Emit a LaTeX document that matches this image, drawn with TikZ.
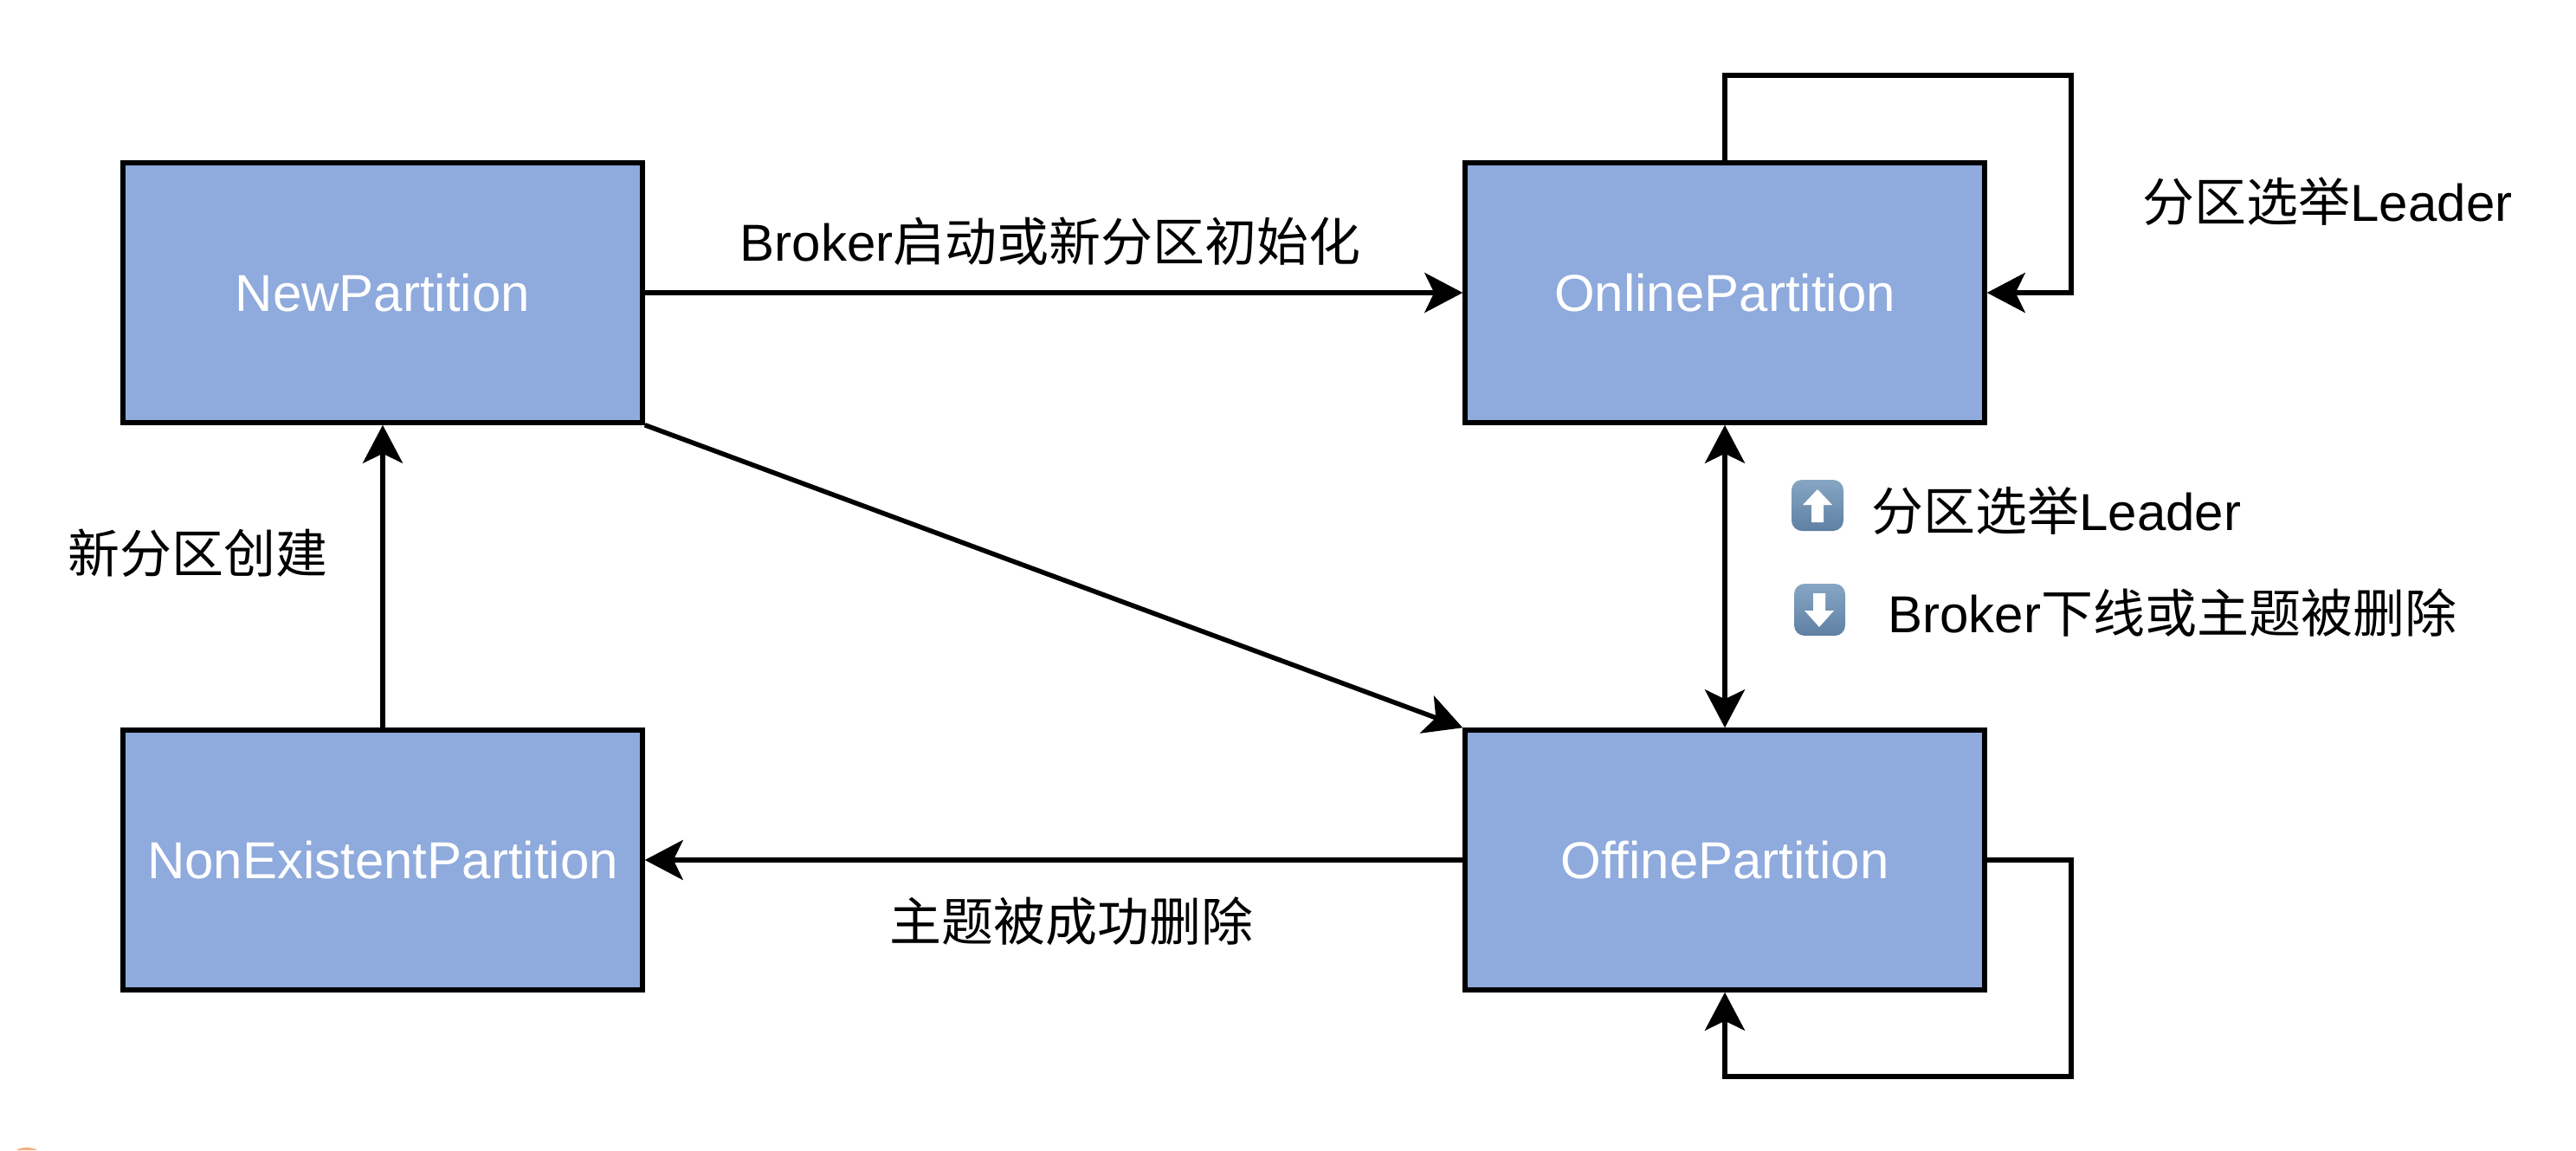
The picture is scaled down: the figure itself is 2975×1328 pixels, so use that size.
\documentclass[tikz,border=0pt]{standalone}
\usepackage{fontspec}
\setmainfont{Liberation Sans}
\newfontfamily\cjk{Noto Sans CJK SC}
\usetikzlibrary{arrows.meta}
\definecolor{boxblue}{HTML}{8FAADC}
\definecolor{icontop}{HTML}{86A6C4}
\definecolor{iconbot}{HTML}{5E80A2}
\definecolor{specorange}{HTML}{F0B080}
\tikzset{
  statebox/.style={draw=black,fill=boxblue,line width=2.75pt,minimum width=300pt,minimum height=150pt,text=white,font=\fontsize{30}{36}\selectfont,inner sep=0pt},
  conn/.style={draw=black,line width=2.75pt,-{Stealth[length=22pt,width=23pt,inset=5.5pt]}},
  connboth/.style={draw=black,line width=2.75pt,{Stealth[length=22pt,width=23pt,inset=5.5pt]}-{Stealth[length=22pt,width=23pt,inset=5.5pt]}},
  lab/.style={font=\fontsize{30}{36}\selectfont,text=black,inner sep=0pt},
  iconbox/.style={rounded corners=6pt,top color=icontop,bottom color=iconbot,draw=none},
}
\begin{document}
\begin{tikzpicture}[x=0.5pt,y=-0.5pt]
\useasboundingbox (0,0) rectangle (2975,1328);
\node[statebox] (new) at (442,338) {NewPartition};
\node[statebox] (online) at (1992,338) {OnlinePartition};
\node[statebox] (none) at (442,993) {NonExistentPartition};
\node[statebox] (offline) at (1992,993) {OffinePartition};
\coordinate (t1) at (2392,87);
\coordinate (t2) at (2392,1243);
\draw[conn] (new.east) -- (online.west);
\draw[conn] (new.south east) -- (offline.north west);
\draw[connboth] (online.south) -- (offline.north);
\draw[conn] (offline.west) -- (none.east);
\draw[conn] (none.north) -- (new.south);
\draw[conn] (online.north) |- (t1) |- (online.east);
\draw[conn] (offline.east) -| (t2) -| (offline.south);
\node[lab] (l1) at (1213,279) {Broker{\cjk 启动或新分区初始化}};
\node[lab] (l2) at (2688,233) {{\cjk 分区选举}Leader};
\node[lab,anchor=west] (l3) at (2161,590) {{\cjk 分区选举}Leader};
\node[lab,anchor=west] (l4) at (2180,708) {Broker{\cjk 下线或主题被删除}};
\node[lab] (l5) at (228,639) {\cjk 新分区创建};
\node[lab] (l6) at (1237,1064) {\cjk 主题被成功删除};
\path[iconbox] (2069,554) rectangle (2129,613);
\fill[white] (2099,565) -- (2116,583) -- (2106,583) -- (2106,603) -- (2092,603) -- (2092,583) -- (2082,583) -- cycle;
\path[iconbox] (2072,674) rectangle (2131,734);
\fill[white] (2101,724) -- (2118,705) -- (2108,705) -- (2108,685) -- (2094,685) -- (2094,705) -- (2084,705) -- cycle;
\fill[specorange] (19,1328) .. controls (24,1324) and (38,1324) .. (43,1328) -- cycle;
\end{tikzpicture}
\end{document}
